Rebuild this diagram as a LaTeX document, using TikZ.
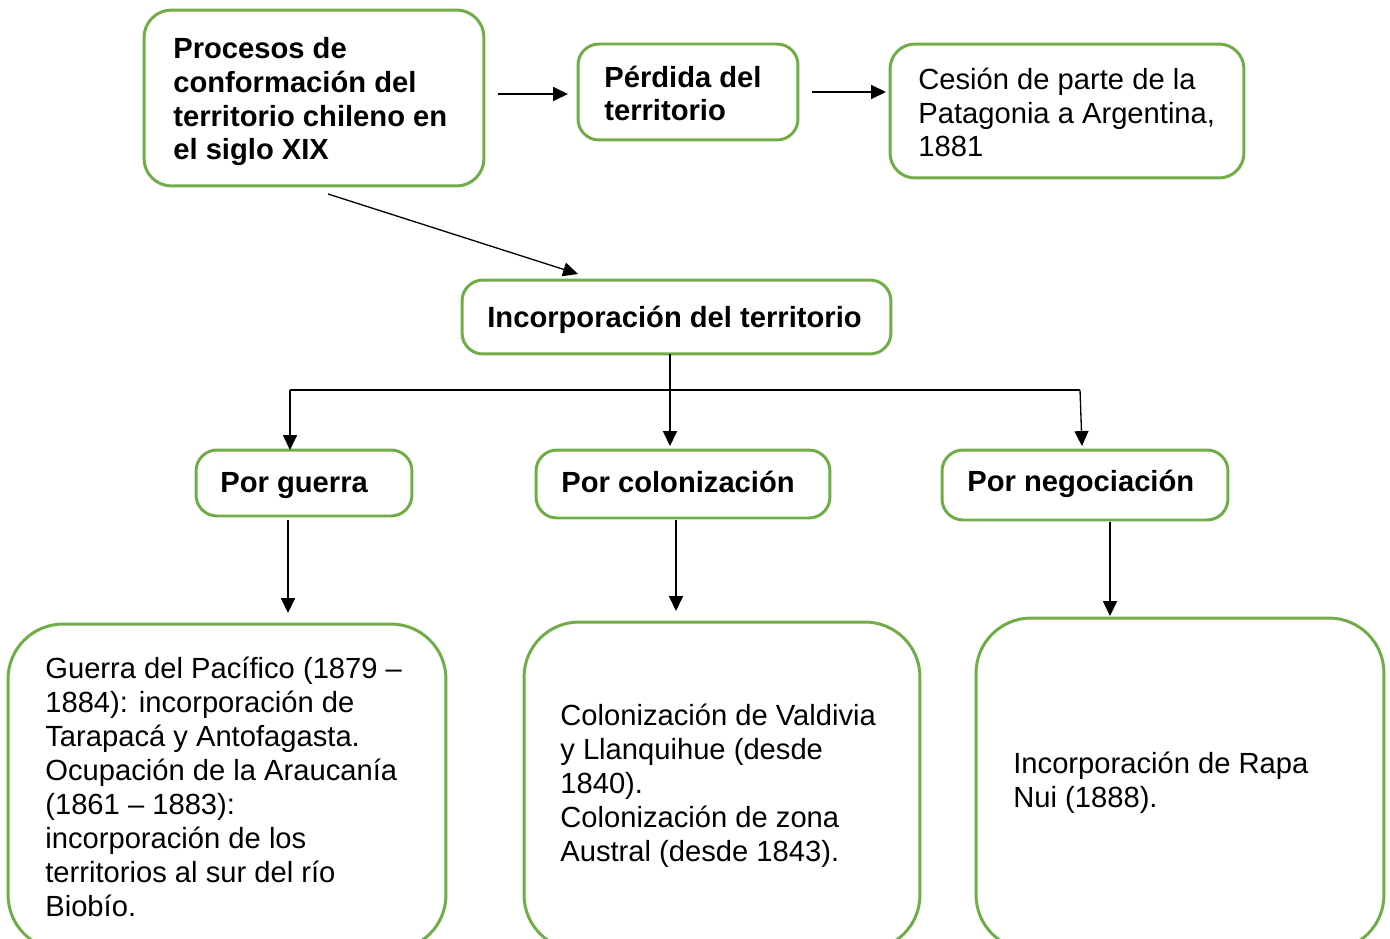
\documentclass[tikz,border=0pt]{standalone}
\usepackage{fontspec}
\setmainfont{Liberation Sans}
\usetikzlibrary{arrows.meta}
\definecolor{grn}{HTML}{70AD47}
\begin{document}
\begin{tikzpicture}[x=0.02cm,y=-0.02cm,
  box/.style={draw=grn, line width=1.7pt, rounded corners=0.42cm, inner sep=0pt},
  bigbox/.style={box, rounded corners=1.1cm},
  txt/.style={anchor=base west, align=left, inner sep=0pt, font=\fontsize{16.6}{19.3}\selectfont},
  btxt/.style={txt, font=\fontsize{16.6}{19.3}\selectfont\bfseries},
  arr/.style={-{Triangle[length=8.5pt,width=8pt]}, line width=0.75pt},
  ln/.style={line width=0.75pt}]
\useasboundingbox (0,0) rectangle (1390,939);
\clip (0,0) rectangle (1390,939);
% boxes
\node[box, rounded corners=0.55cm, minimum width=6.8cm, minimum height=3.52cm] (A) at (314,98) {};
\node[box, minimum width=4.4cm, minimum height=1.92cm] (B) at (688,92) {};
\node[box, rounded corners=0.5cm, minimum width=7.08cm, minimum height=2.68cm] (C) at (1067,111) {};
\node[box, minimum width=8.58cm, minimum height=1.48cm] (D) at (676.5,317) {};
\node[box, minimum width=4.32cm, minimum height=1.32cm] (E) at (304,483) {};
\node[box, minimum width=5.88cm, minimum height=1.36cm] (F) at (683,484) {};
\node[box, minimum width=5.72cm, minimum height=1.4cm] (G) at (1085,485) {};
\node[bigbox, minimum width=8.76cm, minimum height=6.52cm] (H) at (227,787) {};
\node[bigbox, minimum width=7.92cm, minimum height=6.56cm] (I) at (722,786) {};
\node[bigbox, minimum width=8.16cm, minimum height=6.64cm] (J) at (1180,784) {};
% texts (anchored at the baseline of their last line)
\node[btxt] (tA) at (173,160) {Procesos de\\conformación del\\territorio chileno en\\el siglo XIX};
\node[btxt] (tB) at (604,121) {Pérdida del\\territorio};
\node[txt] (tC) at (918,157) {Cesión de parte de la\\Patagonia a Argentina,\\1881};
\node[btxt] (tD) at (487,328) {Incorporación del territorio};
\node[btxt] (tE) at (220,492) {Por guerra};
\node[btxt] (tF) at (561,492) {Por colonización};
\node[btxt] (tG) at (967,491) {Por negociación};
\node[txt] (tH) at (45,916) {Guerra del Pacífico (1879 –\\1884): incorporación de\\Tarapacá y Antofagasta.\\Ocupación de la Araucanía\\(1861 – 1883):\\incorporación de los\\territorios al sur del río\\Biobío.};
\node[txt] (tI) at (560,861) {Colonización de Valdivia\\y Llanquihue (desde\\1840).\\Colonización de zona\\Austral (desde 1843).};
\node[txt] (tJ) at (1013,807) {Incorporación de Rapa\\Nui (1888).};
% connector ends
\coordinate (a1) at (498,94); \coordinate (a2) at (568,94);
\coordinate (b1) at (812,92); \coordinate (b2) at (886,92);
\coordinate (d1) at (328,194); \coordinate (d2) at (578,274);
\coordinate (m0) at (670,354); \coordinate (m2) at (670,446);
\coordinate (l1) at (290,390); \coordinate (l2) at (290,450);
\coordinate (r1) at (1080,390); \coordinate (r2) at (1082,446);
\coordinate (e1) at (288,520); \coordinate (e2) at (288,613);
\coordinate (f1) at (676,520); \coordinate (f2) at (676,611);
\coordinate (g1) at (1110,522); \coordinate (g2) at (1110,616);
% connectors
\draw[arr] (a1) -- (a2);
\draw[arr] (b1) -- (b2);
\draw[arr] (d1) -- (d2);
\draw[arr] (m0) -- (m2);
\draw[ln] (l1) -- (r1);
\draw[arr] (l1) -- (l2);
\draw[arr] (r1) -- (r2);
\draw[arr] (e1) -- (e2);
\draw[arr] (f1) -- (f2);
\draw[arr] (g1) -- (g2);
\end{tikzpicture}
\end{document}
